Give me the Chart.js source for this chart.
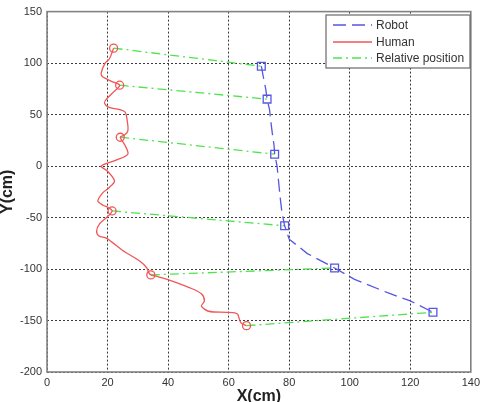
<!DOCTYPE html>
<html>
<head>
<meta charset="utf-8">
<script src="https://cdn.jsdelivr.net/npm/chart.js@4.4.0/dist/chart.umd.min.js"></script>
<style>
  html, body { margin: 0; padding: 0; background: #fff; }
  #wrap { width: 484px; height: 402px; }
</style>
</head>
<body>
<div id="wrap"><canvas id="grafico" width="484" height="402"></canvas></div>
<script>
// trajetoria do humano (cm)
const humanX = [22, 20.6, 19.2, 17.9, 18.2, 19, 21.5, 24, 22, 19.6, 19, 20.5, 25.6, 26.5, 26.7, 25.5, 24.2,
  25.8, 26.7, 23, 17.9, 20, 22.3, 20.5, 18.4, 16.8, 18.5, 20, 21.5, 19.7, 17.4, 16.4, 17.2, 19.6,
  25, 30.5, 33, 33.5, 34.3, 36, 39.7, 47, 51, 52, 51, 53.4, 59.3, 62, 63, 64, 65.9];
const humanY = [114.5, 104, 100, 90.5, 87, 85.7, 82, 78.5, 72, 65, 61, 57, 53, 44, 34, 30, 28,
  20, 11.5, 6, 0, -5, -14.5, -21, -26, -34, -38, -40, -43.6, -50, -56, -63, -68, -70,
  -82, -92, -99, -103, -105.7, -107, -110, -118, -124, -131, -136, -141, -142, -142.5, -144, -152, -155];
const humanMarkX = [22, 24, 24.2, 21.5, 34.3, 65.9];
const humanMarkY = [114.5, 78.5, 28, -43.6, -105.7, -155];

// trajetoria do robo (cm)
const robotX = [70.8, 71.5, 72.3, 72.7, 73.5, 74, 74.5, 75, 75.2, 76, 76.5, 77, 77.6, 78.5,
  80, 86, 95, 101.6, 112.5, 120, 127.5];
const robotY = [97, 86, 74, 65, 55, 42, 30, 20, 11.5, 0, -15, -30, -45, -58,
  -71, -85, -99, -110, -123, -131, -142];
const robotMarkX = [70.8, 72.7, 75.2, 78.5, 95, 127.5];
const robotMarkY = [97, 65, 11.5, -58, -99, -142];

const xTicks = [0, 20, 40, 60, 80, 100, 120, 140];
const yTicks = [-200, -150, -100, -50, 0, 50, 100, 150];
const legendLabels = ['Robot', 'Human', 'Relative position'];

const AZUL = '#5656e2';
const VERMELHO = '#f05656';
const VERDE = '#4fe34f';
const DASH_ROBO = [13, 6];
const DASH_REL = [9, 4, 2, 4];
const FONTE = 'Arial, "Liberation Sans", sans-serif';

function pontos(xs, ys) {
  return xs.map((x, i) => ({ x: x, y: ys[i] }));
}

const datasets = [];
datasets.push({ label: legendLabels[0], data: pontos(robotX, robotY), borderColor: AZUL, borderDash: DASH_ROBO,
  borderWidth: 1.3, pointRadius: 0, showLine: true, fill: false });
datasets.push({ label: 'robo-marcas', data: pontos(robotMarkX, robotMarkY), borderColor: AZUL, backgroundColor: 'rgba(0,0,0,0)',
  pointStyle: 'rect', pointRadius: 5.5, pointBorderWidth: 1.3, showLine: false });
datasets.push({ label: legendLabels[1], data: pontos(humanX, humanY), borderColor: VERMELHO,
  borderWidth: 1.3, pointRadius: 0, showLine: true, fill: false, tension: 0.3 });
datasets.push({ label: 'humano-marcas', data: pontos(humanMarkX, humanMarkY), borderColor: VERMELHO, backgroundColor: 'rgba(0,0,0,0)',
  pointStyle: 'circle', pointRadius: 4, pointBorderWidth: 1.3, showLine: false });
for (let i = 0; i < humanMarkX.length; i++) {
  datasets.push({ label: legendLabels[2], data: [{ x: humanMarkX[i], y: humanMarkY[i] }, { x: robotMarkX[i], y: robotMarkY[i] }],
    borderColor: VERDE, borderDash: DASH_REL, borderWidth: 1.3, pointRadius: 0, showLine: true, fill: false });
}

// moldura do grafico + legenda no canto
const moldura = {
  id: 'moldura',
  afterDraw(chart) {
    const { ctx, chartArea: a } = chart;
    ctx.save();
    ctx.strokeStyle = '#838383';
    ctx.lineWidth = 1.6;
    ctx.strokeRect(a.left, a.top, a.right - a.left, a.bottom - a.top);

    const bx = 326, by = 15, bw = 144, bh = 53;
    ctx.fillStyle = '#fff';
    ctx.fillRect(bx, by, bw, bh);
    ctx.strokeStyle = '#6a6a6a';
    ctx.lineWidth = 1.2;
    ctx.strokeRect(bx, by, bw, bh);

    const estilos = [[AZUL, DASH_ROBO], [VERMELHO, []], [VERDE, DASH_REL]];
    const linhasY = [25, 42, 58];
    ctx.font = '12px ' + FONTE;
    ctx.textBaseline = 'middle';
    legendLabels.forEach((txt, i) => {
      ctx.beginPath();
      ctx.strokeStyle = estilos[i][0];
      ctx.setLineDash(estilos[i][1]);
      ctx.lineWidth = 1.3;
      ctx.moveTo(333, linhasY[i]);
      ctx.lineTo(372, linhasY[i]);
      ctx.stroke();
      ctx.setLineDash([]);
      ctx.fillStyle = '#333';
      ctx.fillText(txt, 376, linhasY[i] + 1);
    });
    ctx.restore();
  }
};

const ctx = document.getElementById('grafico').getContext('2d');
new Chart(ctx, {
  type: 'scatter',
  data: { datasets: datasets },
  plugins: [moldura],
  options: {
    responsive: false,
    animation: false,
    events: [],
    layout: { padding: { top: 10, right: 10, left: 0, bottom: 0 } },
    plugins: { legend: { display: false }, tooltip: { enabled: false } },
    scales: {
      x: {
        type: 'linear', min: 0, max: 140,
        afterBuildTicks: (s) => { s.ticks = xTicks.map(v => ({ value: v })); },
        afterFit: (s) => { s.height = 30; },
        ticks: { padding: 4, color: '#333', font: { family: FONTE, size: 11 } },
        grid: { color: '#3a3a3a', lineWidth: 1, drawTicks: false },
        border: { display: false, dash: [2, 2] },
        title: { display: true, text: 'X(cm)', color: '#222', padding: { top: 0, bottom: -4 },
          font: { family: FONTE, size: 16, weight: 'bold' } }
      },
      y: {
        type: 'linear', min: -200, max: 150,
        afterBuildTicks: (s) => { s.ticks = yTicks.map(v => ({ value: v })); },
        afterFit: (s) => { s.width = 47; },
        ticks: { padding: 5, color: '#333', font: { family: FONTE, size: 11 } },
        grid: { color: '#3a3a3a', lineWidth: 1, drawTicks: false },
        border: { display: false, dash: [2, 2] },
        title: { display: true, text: 'Y(cm)', color: '#222', padding: { top: -2, bottom: 0 },
          font: { family: FONTE, size: 16, weight: 'bold' } }
      }
    }
  }
});
</script>
</body>
</html>
